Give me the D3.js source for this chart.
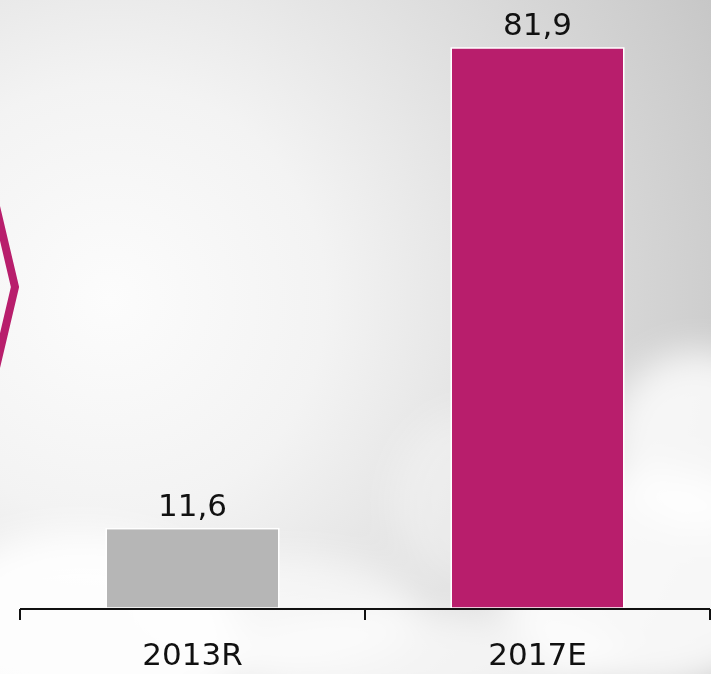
<!DOCTYPE html>
<html>
<head>
<meta charset="utf-8">
<script src="https://cdn.jsdelivr.net/npm/d3@7"></script>
<style>
  body { margin: 0; background: #f4f4f4; }
  #chart { width: 711px; height: 674px; }
</style>
</head>
<body>
<div id="chart"></div>
<script>
// data
const categories = ["2013R", "2017E"];
const values = [11.6, 81.9];
const valueLabels = ["11,6", "81,9"];
const barColors = ["#b6b6b6", "#b81e6c"];

const W = 711, H = 674;
const M = {t: 48, r: 0, b: 65, l: 20};
const svg = d3.select('#chart').append('svg').attr('width', W).attr('height', H);
const defs = svg.append('defs');

// background: soft grey glow + blurry clouds
const rg = defs.append('radialGradient').attr('id', 'bg')
  .attr('gradientUnits', 'userSpaceOnUse')
  .attr('cx', 110).attr('cy', 300).attr('r', 720);
[[0, '#fcfcfc'], [0.3, '#f3f3f3'], [0.6, '#dedede'], [0.85, '#cdcdcd'], [1, '#c2c2c2']]
  .forEach(s => rg.append('stop').attr('offset', s[0]).attr('stop-color', s[1]));
defs.append('filter').attr('id', 'blur').attr('x', '-50%').attr('y', '-50%').attr('width', '200%').attr('height', '200%')
  .append('feGaussianBlur').attr('stdDeviation', 18);

svg.append('rect').attr('width', W).attr('height', H).attr('fill', 'url(#bg)');

const clouds = [
  {cx: 80, cy: 640, rx: 160, ry: 110, o: 0.9},
  {cx: 280, cy: 610, rx: 140, ry: 55, o: 0.6},
  {cx: 470, cy: 500, rx: 80, ry: 90, o: 0.35},
  {cx: 700, cy: 440, rx: 90, ry: 90, o: 0.8},
  {cx: 650, cy: 580, rx: 150, ry: 110, o: 0.85},
  {cx: 420, cy: 660, rx: 200, ry: 50, o: 0.7}
];
svg.append('g').attr('filter', 'url(#blur)')
  .selectAll('ellipse').data(clouds).enter().append('ellipse')
  .attr('cx', d => d.cx).attr('cy', d => d.cy)
  .attr('rx', d => d.rx).attr('ry', d => d.ry)
  .attr('fill', '#ffffff').attr('opacity', d => d.o);

// chevron at the left edge
svg.append('path')
  .attr('d', 'M-6,198 L15,287 L-6,376')
  .attr('fill', 'none')
  .attr('stroke', '#b81e6c')
  .attr('stroke-width', 8)
  .attr('stroke-linejoin', 'miter');

const x = d3.scaleBand().domain(categories)
  .range([M.l, W - M.r - 1]).paddingInner(0.5).paddingOuter(0.25);
const y = d3.scaleLinear().domain([0, d3.max(values)]).range([H - M.b - 1, M.t]);

const bars = categories.map((c, i) => ({cat: c, v: values[i], label: valueLabels[i], color: barColors[i]}));

svg.selectAll('rect.bar').data(bars).enter().append('rect')
  .attr('class', 'bar')
  .attr('x', d => x(d.cat))
  .attr('y', d => y(d.v))
  .attr('width', x.bandwidth())
  .attr('height', d => y(0) - y(d.v))
  .attr('fill', d => d.color)
  .attr('stroke', '#ffffff')
  .attr('stroke-width', 1.5);

svg.selectAll('text.val').data(bars).enter().append('text')
  .attr('class', 'val')
  .attr('x', d => x(d.cat) + x.bandwidth() / 2)
  .attr('y', d => y(d.v) - 13)
  .attr('text-anchor', 'middle')
  .attr('font-family', 'DejaVu Sans, Verdana, sans-serif')
  .attr('font-size', 31)
  .attr('fill', '#111')
  .text(d => d.label);

// axis: baseline with ticks at band boundaries, labels at centres
const axisY = y(0) + 1;
const ax = svg.append('g').attr('transform', `translate(0,${axisY})`)
  .call(d3.axisBottom(x).tickSize(0).tickPadding(34));
ax.select('.domain').remove();
ax.selectAll('text')
  .attr('font-family', 'DejaVu Sans, Verdana, sans-serif')
  .attr('font-size', 31)
  .attr('fill', '#111');

const step = x.step();
const edges = [x(categories[0]) - x.paddingOuter() * step];
categories.forEach(c => edges.push(x(c) + x.bandwidth() + x.paddingInner() * step / 2 + (c === categories[categories.length - 1] ? step * (x.paddingOuter() - x.paddingInner() / 2) : 0)));

ax.append('line')
  .attr('x1', edges[0]).attr('x2', edges[edges.length - 1])
  .attr('stroke', '#111').attr('stroke-width', 2);
ax.selectAll('line.tk').data(edges).enter().append('line')
  .attr('class', 'tk')
  .attr('x1', d => d).attr('x2', d => d)
  .attr('y1', 0).attr('y2', 11)
  .attr('stroke', '#111').attr('stroke-width', 2);
</script>
</body>
</html>
